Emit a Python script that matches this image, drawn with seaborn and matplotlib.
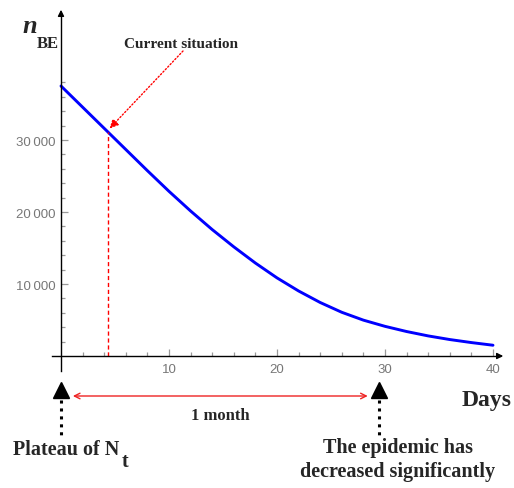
import numpy as np
import pandas as pd
import matplotlib
matplotlib.use("Agg")
import matplotlib.pyplot as plt
from matplotlib.ticker import FixedLocator, FuncFormatter
import seaborn as sns

# ---------------- data ----------------
days = [0, 2, 4, 6, 8, 10, 12, 14, 16, 18, 20, 22, 24, 26, 28, 30, 32, 34, 36, 38, 40]
n_be = [37500, 34560, 31620, 28680, 25740, 22870, 20140, 17560, 15160, 12910, 10850,
        9030, 7430, 6070, 4980, 4120, 3400, 2790, 2285, 1865, 1495]
x_major = [10, 20, 30, 40]
x_minor = list(range(2, 41, 2))
y_major = [10000, 20000, 30000]
y_minor = list(range(2000, 39000, 2000))
current_day = 4.35
current_value = 31100
plateau_day = 0
decrease_day = 29.4
month_start, month_end = 1.1, 28.4

# ---------------- style ----------------
sns.set_style("white")
plt.rcParams["font.family"] = ["Liberation Serif", "DejaVu Serif"]

W, H = 514, 489
fig = plt.figure(figsize=(W / 100, H / 100), dpi=100)
ax = fig.add_axes([0, 0, 1, 1])

# pixel -> data helpers (layout only)
X0, PXD = 61, 10.8
Y0, PYD = 357, 72 / 10000


def dx(px):
    return (px - X0) / PXD


def dy(py):
    return (Y0 - py) / PYD


ax.set_xlim(dx(0), dx(W))
ax.set_ylim(dy(H), dy(0))

df = pd.DataFrame({"day": days, "n": n_be})
sns.lineplot(data=df, x="day", y="n", ax=ax, color="#0000ff", lw=2.1)
ax.set_xlabel("")
ax.set_ylabel("")

# axes through origin
for s in ["top", "right"]:
    ax.spines[s].set_visible(False)
ax.spines["left"].set_position(("data", 0))
ax.spines["bottom"].set_position(("data", 0))
ax.spines["left"].set_bounds(dy(372), dy(14))
ax.spines["bottom"].set_bounds(dx(52), dx(500))
for s in ["left", "bottom"]:
    ax.spines[s].set_color("black")
    ax.spines[s].set_linewidth(1.0)

# axis arrowheads
ax.annotate("", xy=(0, dy(8)), xytext=(0, dy(20)),
            arrowprops=dict(arrowstyle="-|>", color="black", lw=1, mutation_scale=9))
ax.annotate("", xy=(dx(506), 0), xytext=(dx(494), 0),
            arrowprops=dict(arrowstyle="-|>", color="black", lw=1, mutation_scale=9))

ax.xaxis.set_major_locator(FixedLocator(x_major))
ax.xaxis.set_minor_locator(FixedLocator(x_minor))
ax.yaxis.set_major_locator(FixedLocator(y_major))
ax.yaxis.set_minor_locator(FixedLocator(y_minor))
ax.yaxis.set_major_formatter(FuncFormatter(lambda v, p: f"{int(v):,}".replace(",", "\u2009")))
ax.tick_params(axis="both", which="both", direction="in", colors="#999999",
               labelcolor="#777777", labelsize=9.5, width=0.9,
               bottom=True, left=True, top=False, right=False)
ax.tick_params(axis="both", which="major", length=5)
ax.tick_params(axis="both", which="minor", length=3)
ax.tick_params(axis="x", pad=5)
ax.tick_params(axis="y", pad=4)
for lab in ax.get_xticklabels() + ax.get_yticklabels():
    lab.set_family(["Liberation Sans", "DejaVu Sans"])

# current situation marker
ax.plot([current_day, current_day], [0, current_value], color="red", lw=1.0,
        ls=(0, (3, 2)))
ax.annotate("", xy=(current_day + 0.15, current_value + 500), xytext=(dx(183), dy(52)),
            arrowprops=dict(arrowstyle="-|>", color="red", lw=1.0, ls=(0, (1, 1.5)),
                            mutation_scale=13, shrinkA=0, shrinkB=0))
ax.text(dx(181), dy(48), "Current situation", ha="center", va="baseline",
        fontsize=11, fontweight="bold")

# y label n_BE
ax.text(dx(22), dy(33), "n", ha="left", va="baseline", fontsize=19,
        fontweight="bold", fontstyle="italic")
ax.text(dx(37), dy(48), "BE", ha="left", va="baseline", fontsize=12, fontweight="bold")

# Days label
ax.text(dx(462), dy(406), "Days", ha="left", va="baseline", fontsize=17, fontweight="bold")

# milestone arrows below the axis
for d in [plateau_day, decrease_day]:
    ax.plot([d, d], [dy(401), dy(438)], color="black", lw=2.2, ls=(0, (1, 1.6)),
            clip_on=False)
    ax.plot([d], [dy(391)], marker="^", color="black", markersize=11, clip_on=False)

# 1 month double arrow
ax.annotate("", xy=(month_end, dy(397)), xytext=(month_start, dy(397)),
            arrowprops=dict(arrowstyle="<->", color="#ee2222", lw=1.0,
                            mutation_scale=10, shrinkA=0, shrinkB=0))
ax.text((month_start + month_end) / 2, dy(420), "1 month", ha="center", va="baseline",
        fontsize=12, fontweight="bold")

# bottom labels
t1 = ax.text(dx(13), dy(455), "Plateau of N", ha="left", va="baseline",
             fontsize=14.5, fontweight="bold")
fig.canvas.draw()
bb = t1.get_window_extent()
ax.text(dx(bb.x1 + 2), dy(467), "t", ha="left", va="baseline", fontsize=14.5,
        fontweight="bold")
ax.text(dx(398), dy(453), "The epidemic has", ha="center", va="baseline",
        fontsize=14.5, fontweight="bold")
ax.text(dx(398), dy(477), "decreased significantly", ha="center", va="baseline",
        fontsize=14.5, fontweight="bold")

fig.savefig("out.png", dpi=100)
